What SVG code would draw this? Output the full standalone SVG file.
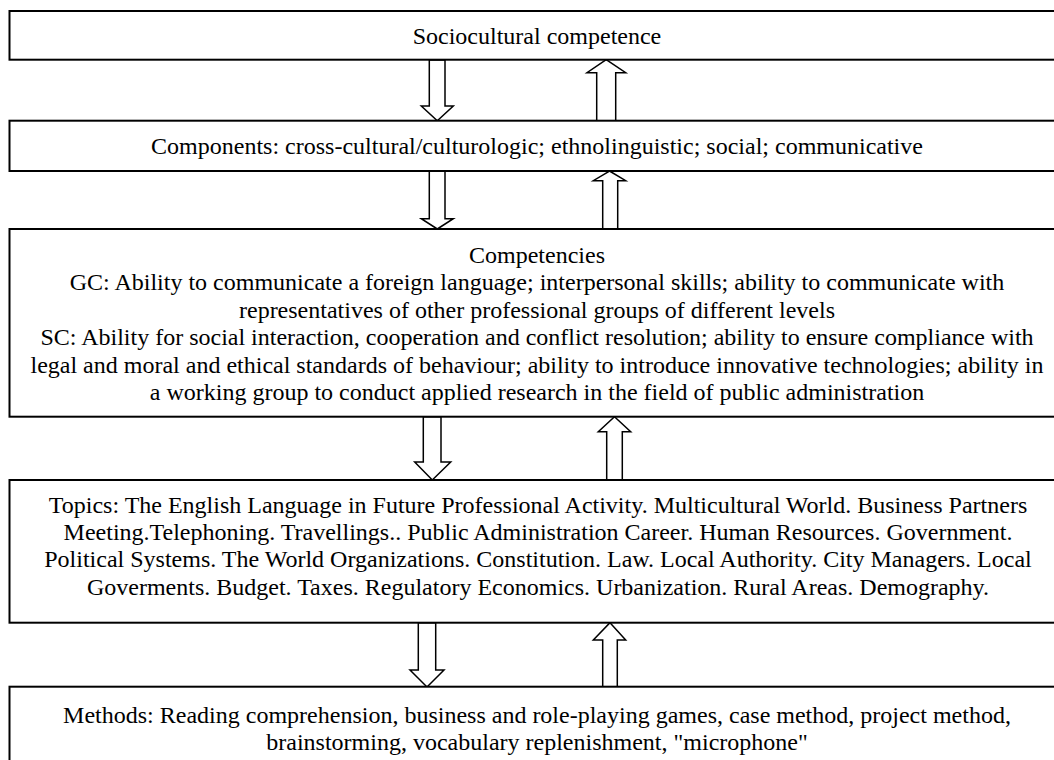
<svg xmlns="http://www.w3.org/2000/svg" width="1054" height="760" viewBox="0 0 1054 760">
<style>
.box{fill:#fff;stroke:#000;stroke-width:2}
.arr{fill:#fff;stroke:#000;stroke-width:1.5;stroke-linejoin:miter}
.t{font-size:24px;fill:#000;text-anchor:middle}
</style>
<rect width="1054" height="760" fill="#fff"/>
<g id="connectors">
<polygon class="arr" points="429.3,60 445,60 445,106 453.3,106 437.3,120.7 421.3,106 429.3,106"/>
<polygon class="arr" points="606.2,59.7 625.7,72.7 615.7,72.7 615.7,120.7 596.7,120.7 596.7,72.7 587,72.7"/>
<polygon class="arr" points="429.3,171 445,171 445,218.7 453.3,218.7 437.3,229 421.3,218.7 429.3,218.7"/>
<polygon class="arr" points="609.5,171 625.7,180.7 617.7,180.7 617.7,229 602.7,229 602.7,180.7 593.3,180.7"/>
<polygon class="arr" points="423.3,416.7 441,416.7 441,462 450.7,462 432.3,480 414.7,462 423.3,462"/>
<polygon class="arr" points="614.5,416.7 630.7,431.7 622.3,431.7 622.3,480 606.7,480 606.7,431.7 598.3,431.7"/>
<polygon class="arr" points="418.3,622.7 435.7,622.7 435.7,670 444,670 427,687 410,670 418.3,670"/>
<polygon class="arr" points="610,622.7 625.7,640 617.3,640 617.3,687 602.7,687 602.7,640 593.3,640"/>
</g>
<g font-family="'Liberation Serif', 'Times New Roman', Times, 'DejaVu Serif', serif">
<g id="n1">
<rect class="box" x="9.5" y="11" width="1060" height="48.7"/>
<text class="t" x="537" y="43.5">Sociocultural competence</text>
</g>
<g id="n2">
<rect class="box" x="9.5" y="120.7" width="1060" height="50.3"/>
<text class="t" x="537" y="154">Components: cross-cultural/culturologic; ethnolinguistic; social; communicative</text>
</g>
<g id="n3">
<rect class="box" x="9.5" y="229" width="1060" height="187.7"/>
<text class="t" x="537" y="262.5">Competencies</text>
<text class="t" x="537" y="290">GC: Ability to communicate a foreign language; interpersonal skills; ability to communicate with</text>
<text class="t" x="537" y="317.5">representatives of other professional groups of different levels</text>
<text class="t" x="537" y="345">SC: Ability for social interaction, cooperation and conflict resolution; ability to ensure compliance with</text>
<text class="t" x="537" y="372.5">legal and moral and ethical standards of behaviour; ability to introduce innovative technologies; ability in</text>
<text class="t" x="537" y="400">a working group to conduct applied research in the field of public administration</text>
</g>
<g id="n4">
<rect class="box" x="9.5" y="480" width="1060" height="142.7"/>
<text class="t" x="538" y="512.7">Topics: The English Language in Future Professional Activity. Multicultural World. Business Partners</text>
<text class="t" x="538" y="539.5">Meeting.Telephoning. Travellings.. Public Administration Career. Human Resources. Government.</text>
<text class="t" x="538" y="567.3">Political Systems. The World Organizations. Constitution. Law. Local Authority. City Managers. Local</text>
<text class="t" x="538" y="595">Goverments. Budget. Taxes. Regulatory Economics. Urbanization. Rural Areas. Demography.</text>
</g>
<g id="n5">
<rect class="box" x="9.5" y="686.7" width="1060" height="100"/>
<text class="t" x="537" y="723">Methods: Reading comprehension, business and role-playing games, case method, project method,</text>
<text class="t" x="537" y="750">brainstorming, vocabulary replenishment, "microphone"</text>
</g>
</g>
</svg>
